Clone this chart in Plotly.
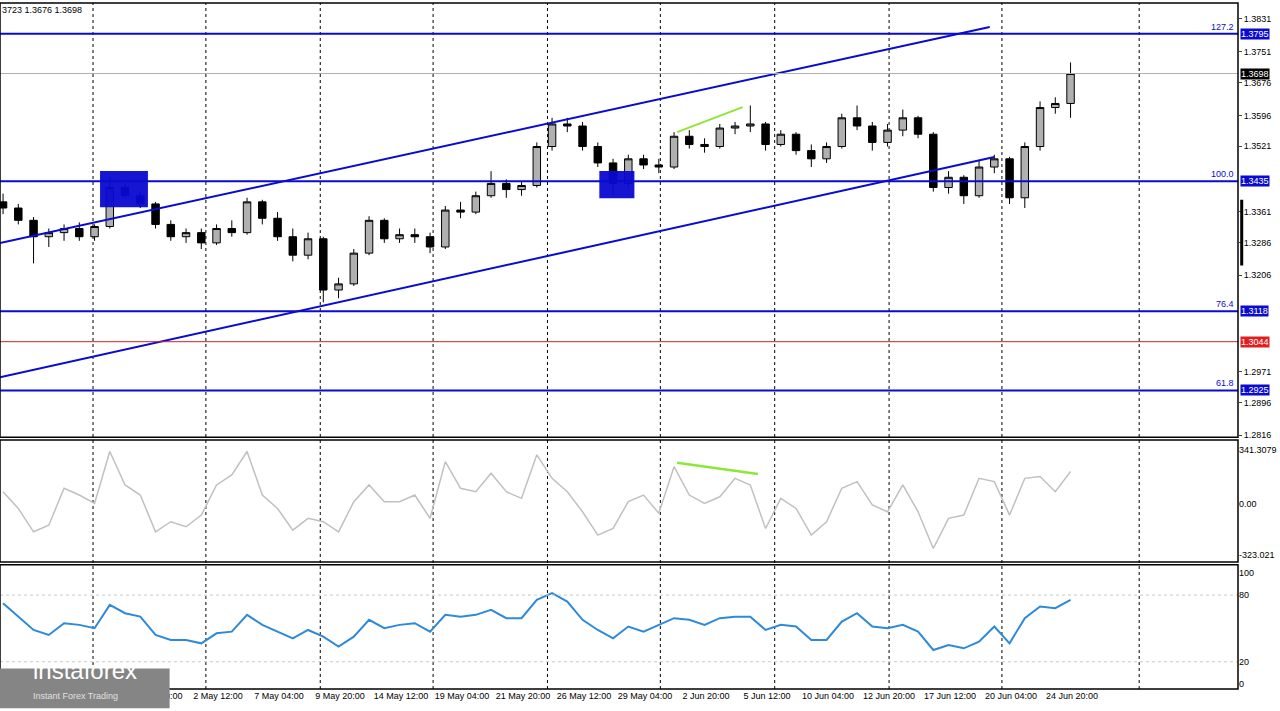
import plotly.graph_objects as go

# 4H candles (grouped) GBP/USD style
opens = [1.3385,1.3370,1.3340,1.3300,1.3310,1.3320,1.3300,1.3325,1.3420,1.3400,
         1.3380,1.3330,1.3300,1.3310,1.3285,1.3320,1.3310,1.3385,1.3345,1.3300,
         1.3255,1.3295,1.3170,1.3185,1.3260,1.3340,1.3295,1.3305,1.3300,1.3275,
         1.3365,1.3360,1.3400,1.3430,1.3415,1.3425,1.3520,1.3575,1.3570,1.3520,
         1.3480,1.3430,1.3490,1.3475,1.3470,1.3545,1.3525,1.3520,1.3565,1.3570,
         1.3575,1.3525,1.3550,1.3510,1.3490,1.3520,1.3590,1.3570,1.3530,1.3560,
         1.3590,1.3550,1.3420,1.3445,1.3400,1.3470,1.3490,1.3395,1.3520,1.3615,
         1.3625]
highs = [1.3405,1.3380,1.3348,1.3320,1.3330,1.3335,1.3330,1.3445,1.3430,1.3410,
         1.3385,1.3340,1.3320,1.3320,1.3330,1.3340,1.3395,1.3390,1.3360,1.3320,
         1.3310,1.3300,1.3200,1.3270,1.3350,1.3345,1.3320,1.3320,1.3310,1.3375,
         1.3385,1.3410,1.3460,1.3440,1.3435,1.3530,1.3590,1.3590,1.3580,1.3530,
         1.3490,1.3500,1.3500,1.3490,1.3555,1.3560,1.3540,1.3575,1.3580,1.3620,
         1.3580,1.3560,1.3555,1.3525,1.3530,1.3600,1.3620,1.3580,1.3575,1.3610,
         1.3595,1.3555,1.3460,1.3450,1.3485,1.3500,1.3495,1.3530,1.3630,1.3640,
         1.3725]
lows = [1.3355,1.3330,1.3235,1.3275,1.3290,1.3290,1.3290,1.3320,1.3395,1.3370,
        1.3320,1.3290,1.3285,1.3270,1.3280,1.3300,1.3305,1.3330,1.3290,1.3240,
        1.3245,1.3140,1.3150,1.3180,1.3255,1.3285,1.3285,1.3285,1.3260,1.3270,
        1.3345,1.3355,1.3395,1.3395,1.3400,1.3420,1.3510,1.3555,1.3510,1.3470,
        1.3400,1.3420,1.3465,1.3455,1.3465,1.3515,1.3505,1.3515,1.3550,1.3555,
        1.3510,1.3520,1.3500,1.3470,1.3480,1.3515,1.3560,1.3510,1.3520,1.3545,
        1.3540,1.3410,1.3405,1.3380,1.3395,1.3455,1.3380,1.3370,1.3510,1.3600,
        1.3590]
closes = [1.3370,1.3340,1.3300,1.3310,1.3320,1.3300,1.3325,1.3420,1.3400,1.3380,
          1.3330,1.3300,1.3310,1.3285,1.3320,1.3310,1.3385,1.3345,1.3300,1.3255,
          1.3295,1.3170,1.3185,1.3260,1.3340,1.3295,1.3305,1.3300,1.3275,1.3365,
          1.3360,1.3400,1.3430,1.3415,1.3425,1.3520,1.3575,1.3570,1.3520,1.3480,
          1.3430,1.3490,1.3475,1.3470,1.3545,1.3525,1.3520,1.3565,1.3570,1.3575,
          1.3525,1.3550,1.3510,1.3490,1.3520,1.3590,1.3570,1.3530,1.3560,1.3590,
          1.3550,1.3420,1.3445,1.3400,1.3470,1.3490,1.3395,1.3520,1.3615,1.3625,
          1.3698]

cci = [78,-28,-176,-134,100,57,4,333,121,57,-176,-112,-144,-70,121,184,333,57,-28,-165,
       -91,-112,-176,15,121,15,15,57,-91,269,100,78,195,78,36,312,163,78,-49,-197,
       -155,15,57,-59,237,57,4,46,163,121,-155,36,-28,-197,-112,100,142,-6,-49,121,
       -49,-282,-91,-70,163,142,-70,163,174,78,206]
rsi = [72.7,60.6,48.6,44.1,54.7,53.2,50.2,71.2,63.7,60.6,44.1,39.6,39.6,36.6,45.6,47.1,62.2,53.2,47.1,41.1,
       48.6,42.6,33.6,42.6,57.7,50.2,53.2,54.7,47.1,62.2,60.6,62.2,66.7,59.2,59.2,75.7,81.7,74.2,57.7,48.6,
       41.1,51.7,47.1,53.2,59.2,57.7,53.2,59.2,60.6,60.6,48.6,53.2,51.7,39.6,39.6,56.2,63.7,51.7,50.2,53.2,
       47.1,30.6,35.1,32.1,38.1,51.7,36.6,59.2,69.7,68.2,75.7]

time_labels = ["22 Apr 12:00", "25 Apr 04:00", "29 Apr 20:00", "2 May 12:00", "7 May 04:00",
               "9 May 20:00", "14 May 12:00", "19 May 04:00", "21 May 20:00", "26 May 12:00",
               "29 May 04:00", "2 Jun 20:00", "5 Jun 12:00", "10 Jun 04:00", "12 Jun 20:00",
               "17 Jun 12:00", "20 Jun 04:00", "24 Jun 20:00"]
grid_bars = [5.9, 13.3, 20.8, 28.2, 35.7, 43.1, 50.6, 58.1, 65.5, 74.5]

price_ticks = [1.3831, 1.3751, 1.3676, 1.3596, 1.3521, 1.3361, 1.3286, 1.3206, 1.2971, 1.2896, 1.2816]
fib_levels = [1.3795, 1.3435, 1.3118, 1.2925]
fib_names = ["127.2", "100.0", "76.4", "61.8"]
support_red = 1.3044
last_price = 1.3698

upper_channel = ([-0.2, 64.7], [1.32844, 1.38115])
lower_channel = ([-0.2, 65.0], [1.29574, 1.34942])
green_price = ([44.2, 48.5], [1.3555, 1.3616])
green_cci = ([44.2, 49.5], [262, 190])
boxes = [(6.36, 9.5, 1.3372, 1.3460), (39.1, 41.4, 1.3394, 1.3460)]

x = list(range(len(closes)))
BLUE = "#0a0ad0"
FONT = "Liberation Sans"

fig = go.Figure()
fig.add_trace(go.Candlestick(x=x, open=opens, high=highs, low=lows, close=closes,
                             increasing=dict(line=dict(color="black", width=1), fillcolor="#b0b0b0"),
                             decreasing=dict(line=dict(color="black", width=1), fillcolor="black"),
                             whiskerwidth=0, showlegend=False, yaxis="y"))
fig.add_trace(go.Scatter(x=x, y=cci, mode="lines", line=dict(color="#c0c0c0", width=1.5),
                         showlegend=False, yaxis="y2"))
fig.add_trace(go.Scatter(x=x, y=rsi, mode="lines", line=dict(color="#2e8ad8", width=2),
                         showlegend=False, yaxis="y3"))
for xs, ys in (upper_channel, lower_channel):
    fig.add_trace(go.Scatter(x=xs, y=ys, mode="lines", line=dict(color=BLUE, width=2),
                             showlegend=False, yaxis="y"))
fig.add_trace(go.Scatter(x=green_price[0], y=green_price[1], mode="lines",
                         line=dict(color="#8ee63a", width=2), showlegend=False, yaxis="y"))
fig.add_trace(go.Scatter(x=green_cci[0], y=green_cci[1], mode="lines",
                         line=dict(color="#8ee63a", width=2.5), showlegend=False, yaxis="y2"))

shapes = []
for b in boxes:
    shapes.append(dict(type="rect", xref="x", yref="y", x0=b[0], x1=b[1], y0=b[2], y1=b[3],
                       fillcolor=BLUE, line=dict(width=0), opacity=0.95, layer="above"))
for g in grid_bars:
    shapes.append(dict(type="line", xref="x", yref="paper", x0=g, x1=g, y0=0, y1=1,
                       line=dict(color="black", width=1, dash="dot"), layer="below"))
for lv in fib_levels:
    shapes.append(dict(type="line", xref="paper", yref="y", x0=0, x1=1, y0=lv, y1=lv,
                       line=dict(color=BLUE, width=2)))
shapes.append(dict(type="line", xref="paper", yref="y", x0=0, x1=1, y0=support_red, y1=support_red,
                   line=dict(color="#d02020", width=1)))
shapes.append(dict(type="line", xref="paper", yref="y", x0=0, x1=1, y0=last_price, y1=last_price,
                   line=dict(color="#b0b0b0", width=1)))
for lv in (80, 20):
    shapes.append(dict(type="line", xref="paper", yref="y3", x0=0, x1=1, y0=lv, y1=lv,
                       line=dict(color="#c8c8c8", width=1, dash="dot")))
# pane frames
for d in ((0.367, 1.0), (0.185, 0.363), (0.0, 0.181)):
    shapes.append(dict(type="rect", xref="paper", yref="paper", x0=0, x1=1, y0=d[0], y1=d[1],
                       line=dict(color="black", width=1.5)))
shapes.append(dict(type="line", xref="paper", yref="y", x0=1.003, x1=1.003, y0=1.3230, y1=1.3390,
                   line=dict(color="black", width=3)))
# logo box
shapes.append(dict(type="rect", xref="paper", yref="paper", x0=0, x1=0.137, y0=-0.028, y1=0.03,
                   fillcolor="#858585", line=dict(width=0), layer="above"))

ann = [dict(text="3723 1.3676 1.3698", x=0, y=1, xref="paper", yref="paper", xanchor="left",
            yanchor="top", showarrow=False, font=dict(size=9, color="black", family=FONT))]
for lv, nm in zip(fib_levels, fib_names):
    ann.append(dict(text=nm, x=0.998, y=lv, xref="paper", yref="y", xanchor="right", yanchor="bottom",
                    showarrow=False, font=dict(size=9, color=BLUE, family=FONT)))
    ann.append(dict(text=f"{lv:.4f}", x=1.002, y=lv, xref="paper", yref="y", xanchor="left",
                    showarrow=False, bgcolor=BLUE, borderpad=0, font=dict(size=9, color="white", family=FONT)))
ann.append(dict(text=f"{support_red:.4f}", x=1.002, y=support_red, xref="paper", yref="y", xanchor="left",
                showarrow=False, bgcolor="#e02020", borderpad=0, font=dict(size=9, color="white", family=FONT)))
ann.append(dict(text=f"{last_price:.4f}", x=1.002, y=last_price, xref="paper", yref="y", xanchor="left",
                showarrow=False, bgcolor="black", borderpad=0, font=dict(size=9, color="white", family=FONT)))
ann.append(dict(text="instaforex", x=0.025, y=0.004, xref="paper", yref="paper", xanchor="left",
                showarrow=False, font=dict(size=24, color="white", family=FONT)))
ann.append(dict(text="Instant Forex Trading", x=0.025, y=-0.02, xref="paper", yref="paper", xanchor="left",
                showarrow=False, font=dict(size=9, color="#e0e0e0", family=FONT)))

fig.update_layout(
    width=1280, height=711, margin=dict(l=0, r=42, t=3, b=22, autoexpand=False),
    paper_bgcolor="white", plot_bgcolor="white",
    font=dict(family=FONT, size=9, color="black"),
    xaxis=dict(range=[-0.2, 80.98], showgrid=False, zeroline=False, rangeslider=dict(visible=False),
               tickvals=[2.1 + 4 * k for k in range(len(time_labels))], ticktext=time_labels,
               tickangle=0, anchor="y3", ticks=""),
    yaxis=dict(domain=[0.367, 1.0], range=[1.2811, 1.3870], side="right", tickvals=price_ticks,
               tickformat=".4f", showgrid=False, zeroline=False, ticks="outside", ticklen=3),
    yaxis2=dict(domain=[0.185, 0.363], range=[-368, 406], side="right", anchor="x",
                tickvals=[341.3079, 0, -323.021], ticktext=["341.3079", "0.00", "-323.021"],
                showgrid=False, zeroline=False),
    yaxis3=dict(domain=[0.0, 0.181], range=[-4.5, 107.2], side="right", anchor="x",
                tickvals=[100, 80, 20, 0], showgrid=False, zeroline=False),
    shapes=shapes, annotations=ann,
)
fig.write_html("out.html", config={"displayModeBar": False},
               post_script="document.body.style.margin='0';")
